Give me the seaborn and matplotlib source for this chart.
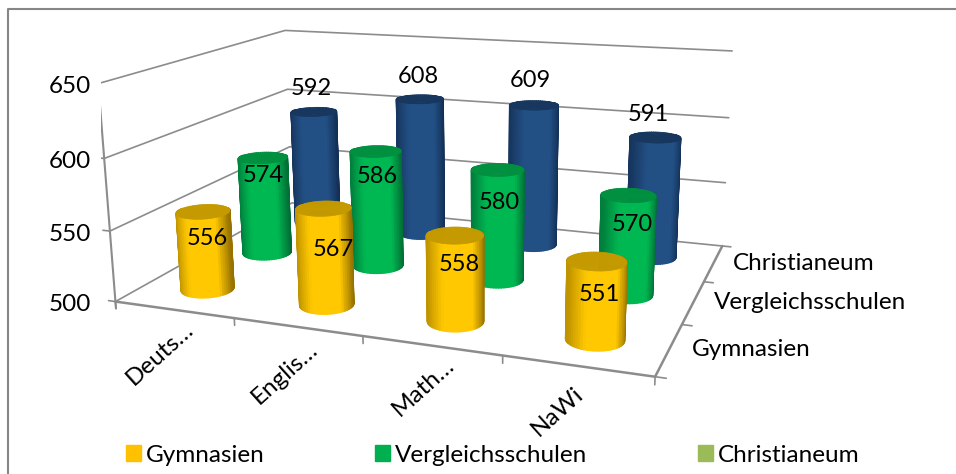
import numpy as np
import seaborn as sns
import matplotlib
matplotlib.use("Agg")
import matplotlib.pyplot as plt
from matplotlib.lines import Line2D
from matplotlib.patches import Patch
from mpl_toolkits.mplot3d import proj3d

subjects = ["Deuts…", "Englis…", "Math…", "NaWi"]
schools = ["Gymnasien", "Vergleichsschulen", "Christianeum"]
gymnasien = [556, 567, 558, 551]
vergleich = [574, 586, 580, 570]
christianeum = [592, 608, 609, 591]
z_ticks = [500, 550, 600, 650]

# layout
W, H = 956, 474
GRAY = "#8c8c8c"
BOX = (2.4522, 1.7244, 1)
AZIM = -68.8566
# side edge, centre, dark side edge, cap
bar_colors = [("#c09400", "#ffc800", "#8f6c00", "#c49a00"),
              ("#007f3c", "#00b852", "#006a34", "#009040"),
              ("#17365f", "#225085", "#122d52", "#17375e")]
legend_colors = ["#ffc000", "#00b050", "#9bbb59"]
label_lift = [-16, -10, 18]
# pixel nudges of the labels (right, up)
label_nudge = [[(3, -5), (9, -18), (4, -5), (3, -8)],
               [(0, -5), (1, -12), (2, -19), (4, -15)],
               [(-2, 1), (-1, 0), (-4, 1), (-8, -1)]]
subject_nudge = [(7, 6), (8, 4), (10, 8), (-7, 0)]

sns.set_theme(style="white")
plt.rcParams["font.family"] = ["Lato", "DejaVu Sans"]

fig = plt.figure(figsize=(W / 100, H / 100), dpi=100)
ax = fig.add_axes([100.95 / W, -32.19 / H, 651.96 / W, 651.96 / H], projection="3d", computed_zorder=False)
ax.set_xlim(-0.5, 3.5)
ax.set_ylim(-0.5, 2.5)
ax.set_zlim(500, 650)
ax.set_axis_off()
ax.view_init(14.4337, AZIM, 0.5665)
ax.set_proj_type("persp", focal_length=0.3513)
ax.set_box_aspect(BOX)
M = ax.get_proj()


def put_text(x, y, z, s, nudge=(0, 0), **kw):
    # Text3D ignores rotation, so project the point and annotate in 2D
    px, py, _ = proj3d.proj_transform(x, y, z, M)
    ax.annotate(s, (px, py), xytext=nudge, textcoords="offset pixels", annotation_clip=False,
                color="black", zorder=200, **kw)


for z in z_ticks:
    ax.plot([-.5, -.5, 3.5], [-.5, 2.5, 2.5], [z, z, z], color=GRAY, lw=1.2, zorder=1)
    ax.plot([-.56, -.5], [-.5, -.5], [z, z], color=GRAY, lw=1.2, zorder=1)
ax.plot([-.5, -.5], [-.5, -.5], [495, 650], color=GRAY, lw=1.5, zorder=1)
ax.plot([-.5, 3.5, 3.5], [-.5, -.5, 2.5], [500, 500, 500], color=GRAY, lw=1.8, zorder=1)
for x in np.arange(-.5, 4):
    ax.plot([x, x], [-.5, -.5], [500, 495], color=GRAY, lw=1.2, zorder=1)
for y in np.arange(-.5, 3):
    ax.plot([3.5, 3.57], [y, y], [500, 500], color=GRAY, lw=1.2, zorder=1)

values = [gymnasien, vergleich, christianeum]
theta = np.linspace(0, 2 * np.pi, 73)
# only the half facing the camera, plus a margin for the perspective
front = np.radians(AZIM) + np.linspace(-np.pi / 2 - 0.5, np.pi / 2 + 0.5, 41)
rx = 0.197
ry = rx * (BOX[0] / 4) / (BOX[1] / 3)
order = 2
for j in [2, 1, 0]:
    edge_l, centre, edge_r, top = bar_colors[j]
    ramp = np.array(sns.blend_palette([edge_l, centre, centre, centre, edge_r], n_colors=64))
    # shade each facet by where it sits across the cylinder as seen by the camera
    u = (np.sin(front - np.radians(AZIM)) + 1) / 2
    side = ramp[np.clip((u * 63).astype(int), 0, 63)]
    side = np.stack([side, side])
    for i in range(4):
        v = values[j][i]
        X = np.array([i + rx * np.cos(front)] * 2)
        Y = np.array([j + ry * np.sin(front)] * 2)
        Z = np.array([[500] * 41, [v] * 41], dtype=float)
        ax.plot_surface(X, Y, Z, facecolors=side, shade=False, rstride=1, cstride=1, linewidth=1.0,
                        joinstyle="round", zorder=order)
        R = np.array([[0.0] * 73, [1.0] * 73])
        ax.plot_surface(i + rx * R * np.cos(theta), j + ry * R * np.sin(theta), np.full((2, 73), float(v)),
                        color=top, edgecolor=top, shade=False, rstride=1, cstride=1, linewidth=0.5, zorder=order + 1)
        put_text(i, j, v + label_lift[j], str(v), label_nudge[j][i], fontsize=17, ha="center", va="center")
        order += 2

# value axis labels line up on one x, as in the source chart
x_top = proj3d.proj_transform(-.5, -.5, 650, M)[0]
for z in z_ticks:
    py = proj3d.proj_transform(-.5, -.5, z, M)[1]
    ax.annotate(str(z), (x_top, py), xytext=(-7, -3), textcoords="offset pixels", annotation_clip=False,
                fontsize=17.5, ha="right", va="center", color="black", zorder=200)
for i, name in enumerate(subjects):
    put_text(i + .07, -.5, 485, name, subject_nudge[i], fontsize=17.5, rotation=42, ha="right", va="center",
             rotation_mode="anchor")
for j, name in enumerate(schools):
    put_text(3.65, j, 501.5, name, fontsize=17.5, ha="left", va="center")

# grey border of the chart area, only left and top are in the crop
fig.add_artist(Line2D([8 / W, 8 / W, 1], [0, 1 - 9 / H, 1 - 9 / H], color="#868686", lw=1.5))

handles = [Patch(color=c) for c in legend_colors]
fig.legend(handles, schools, ncol=3, frameon=False, fontsize=17.5, loc="center", bbox_to_anchor=(0.515, 0.040),
           handlelength=0.62, handleheight=0.62, handletextpad=0.2, columnspacing=4.55, borderpad=0, labelcolor="black")

fig.savefig("out.png", dpi=100, facecolor="white")
